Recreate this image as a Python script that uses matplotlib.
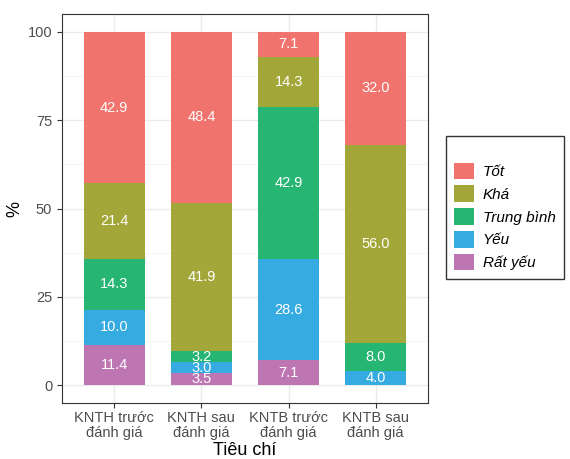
import numpy as np
import matplotlib.pyplot as plt
from matplotlib.ticker import MultipleLocator

plt.rcParams['font.family'] = ['Liberation Sans', 'DejaVu Sans']

categories = ['KNTH trước\nđánh giá', 'KNTH sau\nđánh giá', 'KNTB trước\nđánh giá', 'KNTB sau\nđánh giá']
levels = ['Tốt', 'Khá', 'Trung bình', 'Yếu', 'Rất yếu']
rat_yeu = [11.4, 3.5, 7.1, 0.0]
yeu = [10.0, 3.0, 28.6, 4.0]
trung_binh = [14.3, 3.2, 42.9, 8.0]
kha = [21.4, 41.9, 14.3, 56.0]
tot = [42.9, 48.4, 7.1, 32.0]
colors = ['#F1736D', '#A3A639', '#27B574', '#35ABE2', '#BE76B2']

fig = plt.figure(figsize=(5.7, 4.59), dpi=100)
ax = fig.add_axes([62 / 570, 1 - 403 / 459, 366 / 570, 389 / 459])

x = np.arange(1, len(categories) + 1)
stack = [rat_yeu, yeu, trung_binh, kha, tot]  # bottom to top
stack_colors = colors[::-1]
stack_names = levels[::-1]
bottom = np.zeros(len(categories))
handles = {}
for vals, col, name in zip(stack, stack_colors, stack_names):
    vals = np.array(vals)
    b = ax.bar(x, vals, bottom=bottom, width=0.7, color=col, zorder=2)
    handles[name] = b
    for xi, v, bt in zip(x, vals, bottom):
        if v > 0:
            ax.text(xi, bt + v / 2, f'{v:.1f}', color='white', ha='center', va='center',
                    fontsize=10.5, zorder=3)
    bottom = bottom + vals

ax.set_xlim(0.4, 4.6)
ax.set_ylim(-5, 105)
ax.set_xticks(x)
ax.set_xticklabels(categories, fontsize=10.5, color='#4D4D4D', linespacing=1.1)
ax.yaxis.set_minor_locator(MultipleLocator(12.5))
ax.set_yticks([0, 25, 50, 75, 100])
ax.tick_params(axis='y', labelsize=10.5, labelcolor='#4D4D4D', length=3.5, color='#333333')
ax.tick_params(axis='x', length=3.5, color='#333333', pad=2)
ax.tick_params(axis='y', which='minor', length=0)
ax.grid(True, which='major', color='#EBEBEB', linewidth=1.0, zorder=0)
ax.grid(True, which='minor', axis='y', color='#F2F2F2', linewidth=0.6, zorder=0)
ax.set_axisbelow(True)
for s in ax.spines.values():
    s.set_color('#333333')
    s.set_linewidth(0.8)
ax.set_xlabel('Tiêu chí', fontsize=13, labelpad=1.5)
ax.set_ylabel('%', fontsize=13, labelpad=3)

leg = fig.legend([handles[n] for n in levels], levels, loc='center left',
                 bbox_to_anchor=(446 / 570, 1 - 207.5 / 459), frameon=True, fancybox=False,
                 prop={'style': 'italic', 'size': 11}, handlelength=1.3, handleheight=1.3,
                 labelspacing=0.4, handletextpad=0.55, borderpad=0.55, borderaxespad=0,
                 title=' ', title_fontproperties={'size': 9})
leg.get_frame().set_edgecolor('black')
leg.get_frame().set_linewidth(1.0)

fig.savefig('out.png', dpi=100)
